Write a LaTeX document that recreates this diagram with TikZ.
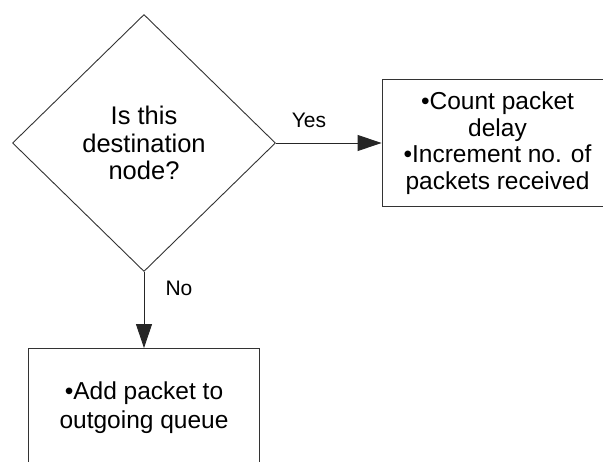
\documentclass[tikz,border=0pt]{standalone}
\usepackage{fontspec}
\setmainfont{Liberation Sans}
\usetikzlibrary{shapes.geometric,arrows.meta}
\tikzset{
  shapeline/.style={draw=black!80, line width=0.9pt},
  dia/.style={shapeline, diamond, inner sep=0pt, minimum width=263pt, minimum height=257pt,
    align=center, font=\fontsize{25.5}{27.5}\selectfont},
  boxnode/.style={shapeline, rectangle, inner sep=0pt, minimum width=231pt, minimum height=127pt,
    align=center, font=\fontsize{24.5}{26.5}\selectfont},
  arr/.style={draw=black!85, line width=0.9pt, -{Triangle[length=24pt,width=16pt]}},
  lbl/.style={font=\fontsize{21}{24}\selectfont, inner sep=0pt}
}
\begin{document}
\begin{tikzpicture}[x=1pt,y=-1pt]
\useasboundingbox (0,0) rectangle (603,462);
\clip (0,0) rectangle (603,462);
\fill[white] (0,0) rectangle (603,462);
\node[dia] (q) at (144,143) {Is this\\destination\\node?};
\node[boxnode] (r) at (497.5,143) {\textbullet Count packet\\delay\\\textbullet Increment no. of\\packets received};
\node[boxnode, minimum height=118pt, font=\fontsize{24.5}{29}\selectfont] (b) at (144,407.5) {\textbullet Add packet to\\outgoing queue};
\draw[arr] (q.east) -- (r.west);
\draw[arr] (q.south) -- (b.north);
\node[lbl] (yes) at (309,120) {Yes};
\node[lbl] (no) at (179,288) {No};
\end{tikzpicture}
\end{document}
